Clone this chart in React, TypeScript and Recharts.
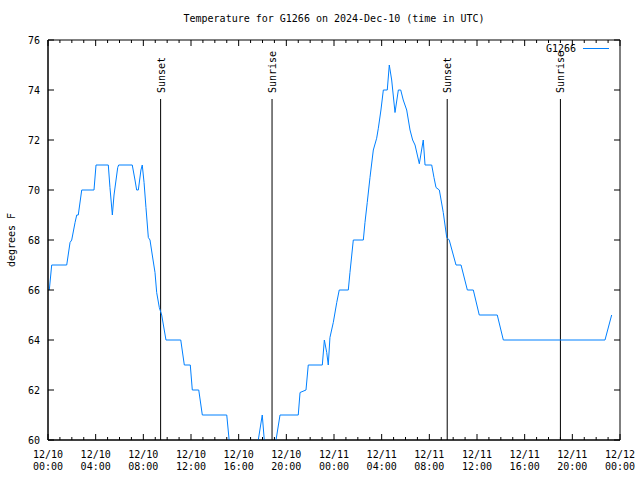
import { LineChart, Line, XAxis, YAxis, ReferenceLine, ReferenceDot, ReferenceArea } from "recharts";

// hours since 12/10 00:00 UTC, temperature in degrees F
const HOURS = [
  0.11, 0.31, 1.57, 1.85, 1.99, 2.27, 2.41, 2.54, 2.83, 3.86,
  4.03, 5.06, 5.2, 5.4, 5.54, 5.85, 5.93, 7.07, 7.3, 7.44,
  7.58, 7.8, 7.91, 8.06, 8.22, 8.42, 8.56, 8.75, 8.98, 9.12,
  9.34, 9.54, 9.9, 11.14, 11.44, 11.94, 12.11, 12.65, 12.95, 15.0,
  15.4, 17.31, 17.98, 18.32, 18.8, 19.47, 21.0, 21.15, 21.65, 21.84,
  23.02, 23.19, 23.39, 23.52, 23.66, 23.94, 24.23, 24.44, 25.2, 25.34,
  25.62, 26.46, 26.6, 26.79, 27.02, 27.3, 27.58, 27.72, 27.94, 28.14,
  28.47, 28.64, 28.84, 29.12, 29.4, 29.6, 29.81, 30.1, 30.38, 30.6,
  30.8, 31.16, 31.49, 31.64, 32.2, 32.39, 32.56, 32.84, 33.17, 33.46,
  33.67, 34.01, 34.24, 34.66, 35.19, 35.69, 36.19, 37.7, 38.21, 46.74,
  47.3,
];

const TEMPS = [
  66, 67, 67, 67.9, 68, 68.7, 69, 69, 70, 70,
  71, 71, 70.1, 69, 69.8, 70.9, 71, 71, 70.4, 70,
  70, 70.8, 71, 70.3, 69.3, 68.1, 68, 67.4, 66.7, 65.9,
  65.3, 65, 64, 64, 63, 63, 62, 62, 61, 61,
  59, 59, 61, 59, 59, 61, 61, 61.9, 62, 63,
  63, 64, 63.5, 63, 64.1, 64.7, 65.5, 66, 66, 66.7,
  68, 68, 68.7, 69.5, 70.5, 71.6, 72.07, 72.47, 73.2, 74,
  74, 75, 74.4, 73.1, 74, 74, 73.6, 73.2, 72.4, 72,
  71.8, 71.05, 72, 71, 71, 70.5, 70.1, 70, 69.1, 68.1,
  68, 67.4, 67, 67, 66, 66, 65, 65, 64, 64,
  65,
];

const SUN_EVENTS = ["Sunset", "Sunrise", "Sunset", "Sunrise"];
const SUN_HOURS = [9.45, 18.8, 33.5, 43.0];
const SUN_LINE_TOP = 73.64;

const HOUR_TICKS = Array.from({ length: 49 }, (_, i) => i);
const TEMP_TICKS = [60, 62, 64, 66, 68, 70, 72, 74, 76];
const X_TICK_DATES = [
  "12/10", "12/10", "12/10", "12/10", "12/10", "12/10",
  "12/11", "12/11", "12/11", "12/11", "12/11", "12/11",
  "12/12",
];
const X_TICK_TIMES = [
  "00:00", "04:00", "08:00", "12:00", "16:00", "20:00",
  "00:00", "04:00", "08:00", "12:00", "16:00", "20:00",
  "00:00",
];

const LINE_COLOR = "#0080ff";
const FONT = '"DejaVu Sans Mono", monospace';
const PLOT_W = 572;
const PLOT_H = 400;

const data = HOURS.map((h, i) => ({ h, temp: TEMPS[i] }));

const XTick = ({ x, y, payload }: any) => {
  const v = payload.value as number;
  const major = v % 4 === 0;
  const len = major ? 6 : 3;
  const idx = v / 4;
  return (
    <g>
      <line x1={x} y1={y} x2={x} y2={y - len} stroke="#000" />
      <line x1={x} y1={y - PLOT_H} x2={x} y2={y - PLOT_H + len} stroke="#000" />
      {major && (
        <text x={x} y={y} textAnchor="middle" fontFamily={FONT} fontSize={10} fill="#000">
          <tspan x={x} dy={18}>{X_TICK_DATES[idx]}</tspan>
          <tspan x={x} dy={12}>{X_TICK_TIMES[idx]}</tspan>
        </text>
      )}
    </g>
  );
};

const YTick = ({ x, y, payload }: any) => (
  <g>
    <line x1={x} y1={y} x2={x + 6} y2={y} stroke="#000" />
    <line x1={x + PLOT_W} y1={y} x2={x + PLOT_W - 6} y2={y} stroke="#000" />
    <text x={x - 8} y={y} dy={4} textAnchor="end" fontFamily={FONT} fontSize={10} fill="#000">
      {payload.value}
    </text>
  </g>
);

const SunLabel = (text: string) => (props: any) => {
  const { cx, cy } = props;
  const ty = cy - 6;
  return (
    <text
      x={cx}
      y={ty}
      dy={4}
      transform={`rotate(-90, ${cx}, ${ty})`}
      textAnchor="start"
      fontFamily={FONT}
      fontSize={10}
      fill="#000"
    >
      {text}
    </text>
  );
};

export default function App() {
  return (
    <div style={{ position: "absolute", left: 0, top: 0, width: 640, height: 480, background: "#fff" }}>
      <div
        style={{
          position: "absolute",
          left: 48,
          top: 12,
          width: PLOT_W,
          textAlign: "center",
          fontFamily: FONT,
          fontSize: 10,
          lineHeight: "14px",
        }}
      >
        Temperature for G1266 on 2024-Dec-10 (time in UTC)
      </div>
      <div
        style={{
          position: "absolute",
          left: 480,
          top: 42,
          width: 96,
          textAlign: "right",
          fontFamily: FONT,
          fontSize: 10,
          lineHeight: "14px",
        }}
      >
        G1266
      </div>
      <div style={{ position: "absolute", left: 583, top: 48, width: 26, borderTop: `1px solid ${LINE_COLOR}` }} />
      <LineChart width={640} height={480} data={data} margin={{ top: 40, right: 20, bottom: 0, left: 0 }}>
        <XAxis
          dataKey="h"
          type="number"
          domain={[0, 48]}
          ticks={HOUR_TICKS}
          interval={0}
          height={40}
          tickSize={0}
          tickMargin={0}
          tickLine={false}
          axisLine={{ stroke: "#000" }}
          tick={<XTick />}
        />
        <YAxis
          type="number"
          domain={[60, 76]}
          ticks={TEMP_TICKS}
          interval={0}
          allowDataOverflow
          width={48}
          tickSize={0}
          tickMargin={0}
          tickLine={false}
          axisLine={{ stroke: "#000" }}
          tick={<YTick />}
          label={(props: any) => {
            const vb = props.viewBox;
            const lx = vb.x + 11;
            const ly = vb.y + vb.height / 2;
            return (
              <text
                x={lx}
                y={ly}
                transform={`rotate(-90, ${lx}, ${ly})`}
                textAnchor="middle"
                dominantBaseline="central"
                fontFamily={FONT}
                fontSize={10}
                fill="#000"
              >
                degrees F
              </text>
            );
          }}
        />
        <ReferenceArea x1={0} x2={48} y1={60} y2={76} fill="none" stroke="#000" strokeWidth={1} />
        {SUN_HOURS.map((h, i) => (
          <ReferenceLine
            key={`sl-${i}`}
            segment={[{ x: h, y: 60 }, { x: h, y: SUN_LINE_TOP }]}
            stroke="#000"
            strokeWidth={1}
          />
        ))}
        {SUN_HOURS.map((h, i) => (
          <ReferenceDot key={`sd-${i}`} x={h} y={SUN_LINE_TOP} r={0} shape={SunLabel(SUN_EVENTS[i])} />
        ))}
        <Line
          type="linear"
          dataKey="temp"
          stroke={LINE_COLOR}
          strokeWidth={1}
          dot={false}
          isAnimationActive={false}
        />
      </LineChart>
    </div>
  );
}
